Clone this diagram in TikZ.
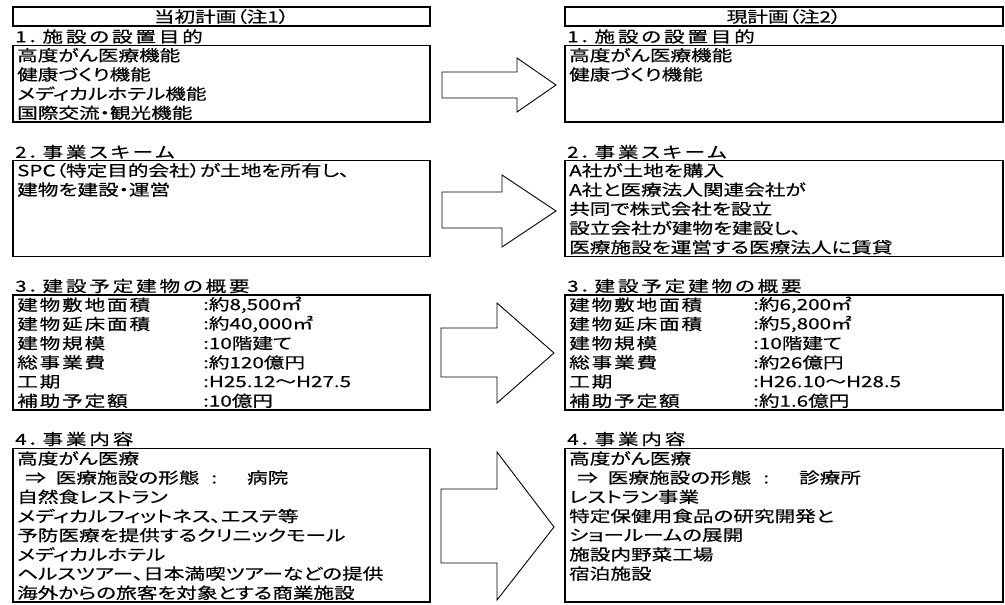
\documentclass[tikz,border=0pt]{standalone}
\usepackage{fontspec}
\newfontfamily\jp[FakeStretch=1.33,FakeBold=0.4,RawFeature=+palt]{Noto Sans CJK JP}
\newfontfamily\jpsp[FakeStretch=1.33,FakeBold=0.4,RawFeature=+palt,LetterSpace=18]{Noto Sans CJK JP}
\newfontfamily\jplb[FakeStretch=1.33,FakeBold=0.4,RawFeature=+palt,LetterSpace=12]{Noto Sans CJK JP}
\begin{document}
\begin{tikzpicture}[x=1pt,y=-1pt,
  box/.style={draw,line width=1.5pt},
  hdr/.style={draw,line width=1.5pt,minimum width=417pt,minimum height=19.2pt,inner sep=0pt,font=\jp\fontsize{15.5}{19}\selectfont},
  hdrR/.style={hdr,minimum width=438pt},
  txt/.style={anchor=west,inner sep=0pt,font=\jp\fontsize{15.5}{19}\selectfont},
  sptxt/.style={anchor=west,inner sep=0pt,font=\jpsp\fontsize{15.5}{19}\selectfont},
  lbtxt/.style={anchor=west,inner sep=0pt,font=\jplb\fontsize{15.5}{19}\selectfont},
  blockarrow/.style={draw,line width=0.9pt,fill=white,line join=miter}]
\useasboundingbox (0,0) rectangle (1005,605);
% headers
\node[hdr] (hL) at (221.5,16.6) {当初計画（注1）};
\node[hdrR] (hR) at (784,16.6) {現計画（注2）};
% section 1
\node[sptxt] (t1L) at (15,36.5) {1．施設の設置目的};
\node[sptxt] (t1R) at (567,36.5) {1．施設の設置目的};
\draw[box] (13,45.4) rectangle (430,122.2);
\draw[box] (565,45.4) rectangle (1003,122.2);
\node[txt] (a1) at (17,55.2) {高度がん医療機能};
\node[txt] (a2) at (17,74.4) {健康づくり機能};
\node[txt] (a3) at (17,93.6) {メディカルホテル機能};
\node[txt] (a4) at (17,112.8) {国際交流・観光機能};
\node[txt] (b1) at (569,55.2) {高度がん医療機能};
\node[txt] (b2) at (569,74.4) {健康づくり機能};
% section 2
\node[sptxt] (t2L) at (15,152) {2．事業スキーム};
\node[sptxt] (t2R) at (567,152) {2．事業スキーム};
\draw[box] (13,160.6) rectangle (430,256.6);
\draw[box] (565,160.6) rectangle (1003,256.6);
\node[txt] (c1) at (17,170.4) {SPC（特定目的会社）が土地を所有し、};
\node[txt] (c2) at (17,189.6) {建物を建設・運営};
\node[txt] (d1) at (569,170.4) {A社が土地を購入};
\node[txt] (d2) at (569,189.6) {A社と医療法人関連会社が};
\node[txt] (d3) at (569,208.8) {共同で株式会社を設立};
\node[txt] (d4) at (569,228.0) {設立会社が建物を建設し、};
\node[txt] (d5) at (569,247.2) {医療施設を運営する医療法人に賃貸};
% section 3
\node[sptxt] (t3L) at (15,286) {3．建設予定建物の概要};
\node[sptxt] (t3R) at (567,286) {3．建設予定建物の概要};
\draw[box] (13,295) rectangle (430,410.2);
\draw[box] (565,295) rectangle (1003,410.2);
\node[lbtxt] (e1) at (17,304.8) {建物敷地面積};
\node[lbtxt] (e2) at (17,324.0) {建物延床面積};
\node[lbtxt] (e3) at (17,343.2) {建物規模};
\node[lbtxt] (e4) at (17,362.4) {総事業費};
\node[lbtxt] (e5) at (17,381.6) {工期};
\node[lbtxt] (e6) at (17,400.8) {補助予定額};
\node[txt] (ev1) at (203,304.8) {:約8,500㎡};
\node[txt] (ev2) at (203,324.0) {:約40,000㎡};
\node[txt] (ev3) at (203,343.2) {:10階建て};
\node[txt] (ev4) at (203,362.4) {:約120億円};
\node[txt] (ev5) at (203,381.6) {:H25.12～H27.5};
\node[txt] (ev6) at (203,400.8) {:10億円};
\node[lbtxt] (f1) at (569,304.8) {建物敷地面積};
\node[lbtxt] (f2) at (569,324.0) {建物延床面積};
\node[lbtxt] (f3) at (569,343.2) {建物規模};
\node[lbtxt] (f4) at (569,362.4) {総事業費};
\node[lbtxt] (f5) at (569,381.6) {工期};
\node[lbtxt] (f6) at (569,400.8) {補助予定額};
\node[txt] (fv1) at (753,304.8) {:約6,200㎡};
\node[txt] (fv2) at (753,324.0) {:約5,800㎡};
\node[txt] (fv3) at (753,343.2) {:10階建て};
\node[txt] (fv4) at (753,362.4) {:約26億円};
\node[txt] (fv5) at (753,381.6) {:H26.10～H28.5};
\node[txt] (fv6) at (753,400.8) {:約1.6億円};
% section 4
\node[sptxt] (t4L) at (15,439) {4．事業内容};
\node[sptxt] (t4R) at (567,439) {4．事業内容};
\draw[box] (13,448.6) rectangle (430,602.2);
\draw[box] (565,448.6) rectangle (1003,602.2);
\node[txt] (g1) at (17,458.4) {高度がん医療};
\node[txt] (g2) at (17,477.6) {\hspace{8pt}⇒\hspace{10pt}医療施設の形態\hspace{12pt}:\hspace{30pt}病院};
\node[txt] (g3) at (17,496.8) {自然食レストラン};
\node[txt] (g4) at (17,516.0) {メディカルフィットネス、エステ等};
\node[txt] (g5) at (17,535.2) {予防医療を提供するクリニックモール};
\node[txt] (g6) at (17,554.4) {メディカルホテル};
\node[txt] (g7) at (17,573.6) {ヘルスツアー、日本満喫ツアーなどの提供};
\node[txt] (g8) at (17,592.8) {海外からの旅客を対象とする商業施設};
\node[txt] (h1) at (569,458.4) {高度がん医療};
\node[txt] (h2) at (569,477.6) {\hspace{8pt}⇒\hspace{10pt}医療施設の形態\hspace{12pt}:\hspace{30pt}診療所};
\node[txt] (h3) at (569,496.8) {レストラン事業};
\node[txt] (h4) at (569,516.0) {特定保健用食品の研究開発と};
\node[txt] (h5) at (569,535.2) {ショールームの展開};
\node[txt] (h6) at (569,554.4) {施設内野菜工場};
\node[txt] (h7) at (569,573.6) {宿泊施設};
% block arrows
\draw[blockarrow] (442,72) -- (517,72) -- (517,58) -- (556,85) -- (517,112) -- (517,98) -- (442,98) -- cycle;
\draw[blockarrow] (442,192) -- (502,192) -- (502,175) -- (556,211) -- (502,247) -- (502,228) -- (442,228) -- cycle;
\draw[blockarrow] (441,328) -- (497,328) -- (497,303) -- (554,353) -- (497,403) -- (497,377) -- (441,377) -- cycle;
\draw[blockarrow] (441,489) -- (497,489) -- (497,452) -- (554,527) -- (497,600) -- (497,563) -- (441,563) -- cycle;
\end{tikzpicture}
\end{document}
